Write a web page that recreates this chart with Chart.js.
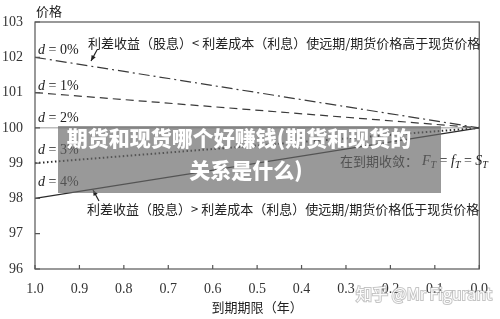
<!DOCTYPE html>
<html>
<head>
<meta charset="utf-8">
<script src="https://cdn.jsdelivr.net/npm/chart.js@4/dist/chart.umd.min.js"></script>
<style>
  html, body { margin: 0; padding: 0; background: #fff; }
  #wrap { width: 500px; height: 319px; position: relative; }
</style>
</head>
<body>
<div id="wrap"><canvas id="myChart"></canvas></div>
<script>
// time to maturity (years), left = 1.0, right = 0.0
const maturities = [1.0, 0.0];
const d0 = [102, 100];
const d1 = [101, 100];
const d2 = [100, 100];
const d3 = [99, 100];
const d4 = [98, 100];
const xTicks = [1.0, 0.9, 0.8, 0.7, 0.6, 0.5, 0.4, 0.3, 0.2, 0.1, 0.0];
const yTicks = [96, 97, 98, 99, 100, 101, 102, 103];
const dLabels = ['0%', '1%', '2%', '3%', '4%'];

const serif = '"Liberation Serif", "DejaVu Serif", serif';
const cjk = '"Noto Sans CJK SC", "Noto Sans", sans-serif';

function pts(vals) {
    return maturities.map((m, i) => ({ x: m, y: vals[i] }));
}

const styles = [
    { color: '#3a3a3a', dash: [11, 4, 2, 4], width: 1.2 },
    { color: '#3a3a3a', dash: [8, 5], width: 1.2 },
    { color: '#9a9a9a', dash: [], width: 1 },
    { color: '#2a2a2a', dash: [1.5, 2.5], width: 2 },
    { color: '#2a2a2a', dash: [], width: 1.2 }
];

const series = [d0, d1, d2, d3, d4];

const data = {
    datasets: series.map((s, i) => ({
        label: 'd = ' + dLabels[i],
        data: pts(s),
        borderColor: styles[i].color,
        borderDash: styles[i].dash,
        borderWidth: styles[i].width,
        pointRadius: 0,
        fill: false,
        tension: 0
    }))
};

const frame = {
    id: 'frame',
    afterDatasetsDraw(chart) {
        const { ctx, chartArea: { left, right, top, bottom } } = chart;
        const xs = chart.scales.x, ys = chart.scales.y;
        ctx.save();
        ctx.strokeStyle = '#555';
        ctx.lineWidth = 1.2;
        ctx.strokeRect(left, top, right - left, bottom - top);
        // inward ticks
        ctx.beginPath();
        xTicks.forEach(v => {
            const px = xs.getPixelForValue(v);
            ctx.moveTo(px, bottom);
            ctx.lineTo(px, bottom - 4);
        });
        yTicks.forEach(v => {
            const py = ys.getPixelForValue(v);
            ctx.moveTo(left, py);
            ctx.lineTo(left + 5, py);
        });
        ctx.stroke();
        ctx.restore();
    }
};

function drawD(ctx, x, y, pct) {
    ctx.font = 'italic 14px ' + serif;
    ctx.fillText('d', x, y);
    const w = ctx.measureText('d').width;
    ctx.font = '14px ' + serif;
    ctx.fillText(' = ' + pct, x + w, y);
}

function arrow(ctx, x1, y1, x2, y2) {
    ctx.beginPath();
    ctx.moveTo(x1, y1);
    ctx.lineTo(x2, y2);
    ctx.stroke();
    const a = Math.atan2(y2 - y1, x2 - x1);
    ctx.beginPath();
    ctx.moveTo(x2, y2);
    ctx.lineTo(x2 - 6 * Math.cos(a - 0.4), y2 - 6 * Math.sin(a - 0.4));
    ctx.lineTo(x2 - 6 * Math.cos(a + 0.4), y2 - 6 * Math.sin(a + 0.4));
    ctx.closePath();
    ctx.fill();
}

const notes = {
    id: 'notes',
    afterDraw(chart) {
        const { ctx } = chart;
        ctx.save();
        ctx.fillStyle = '#222';
        ctx.textBaseline = 'middle';
        ctx.textAlign = 'left';

        // y axis title
        ctx.font = '13px ' + cjk;
        ctx.fillText('价格', 36, 11);

        // d labels
        const dY = [50, 86, 118, 150, 182];
        dY.forEach((y, i) => drawD(ctx, 38, y, dLabels[i]));

        // annotations
        ctx.font = '13px ' + cjk;
        ctx.fillText('利差收益（股息）< 利差成本（利息）使远期/期货价格高于现货价格', 88, 43);
        ctx.fillText('利差收益（股息）> 利差成本（利息）使远期/期货价格低于现货价格', 87, 209);
        ctx.fillText('在到期收敛：', 340, 161);
        let x = 340 + ctx.measureText('在到期收敛：').width + 4;
        const parts = [['F', true], ['T', true, 1], [' = ', false], ['f', true], ['T', true, 1], [' = ', false], ['S', true], ['T', true, 1]];
        parts.forEach(p => {
            const sub = p[2] === 1;
            ctx.font = (p[1] ? 'italic ' : '') + (sub ? '10px ' : '14px ') + serif;
            ctx.fillText(p[0], x, sub ? 165 : 161);
            x += ctx.measureText(p[0]).width;
        });

        ctx.strokeStyle = '#222';
        ctx.fillStyle = '#222';
        ctx.lineWidth = 1.2;
        arrow(ctx, 97, 50, 91, 61);
        arrow(ctx, 99, 201, 93, 190);

        // overlay banner
        ctx.fillStyle = 'rgba(105,105,105,0.68)';
        ctx.fillRect(58, 126, 383, 67);
        ctx.fillStyle = '#fff';
        ctx.textAlign = 'center';
        ctx.font = '900 21px ' + cjk;
        ctx.fillText('期货和现货哪个好赚钱(期货和现货的', 239, 138);
        ctx.fillText('关系是什么)', 246, 170);

        // watermark
        ctx.font = '16px ' + cjk;
        ctx.textAlign = 'left';
        ctx.lineWidth = 2;
        ctx.strokeStyle = 'rgba(150,150,150,0.55)';
        ctx.strokeText('知乎 @Mr Figurant', 356, 294);
        ctx.fillStyle = 'rgba(255,255,255,0.95)';
        ctx.fillText('知乎 @Mr Figurant', 356, 294);
        ctx.restore();
    }
};

const config = {
    type: 'line',
    data,
    plugins: [frame, notes],
    options: {
        responsive: true,
        maintainAspectRatio: false,
        animation: false,
        layout: { padding: { left: 0, right: 8, top: 22, bottom: 0 } },
        plugins: {
            legend: { display: false },
            tooltip: { enabled: false }
        },
        scales: {
            x: {
                type: 'linear',
                reverse: true,
                min: 0,
                max: 1,
                afterFit: s => { s.height = 50; },
                afterBuildTicks: s => { s.ticks = xTicks.map(v => ({ value: v })); },
                grid: { display: false, drawTicks: false },
                border: { display: false },
                ticks: {
                    padding: 12,
                    color: '#333',
                    font: { size: 14, family: serif },
                    maxRotation: 0,
                    autoSkip: false,
                    callback: v => v.toFixed(1)
                },
                title: {
                    display: true,
                    text: '到期期限（年）',
                    color: '#222',
                    font: { size: 13, family: cjk },
                    padding: { top: 0, bottom: 4 }
                }
            },
            y: {
                min: 96,
                max: 103,
                afterFit: s => { s.width = 35; },
                afterBuildTicks: s => { s.ticks = yTicks.map(v => ({ value: v })); },
                grid: { display: false, drawTicks: false },
                border: { display: false },
                ticks: {
                    padding: 12,
                    color: '#333',
                    font: { size: 14, family: serif }
                }
            }
        }
    }
};

const myChart = new Chart(document.getElementById('myChart'), config);
</script>
</body>
</html>
